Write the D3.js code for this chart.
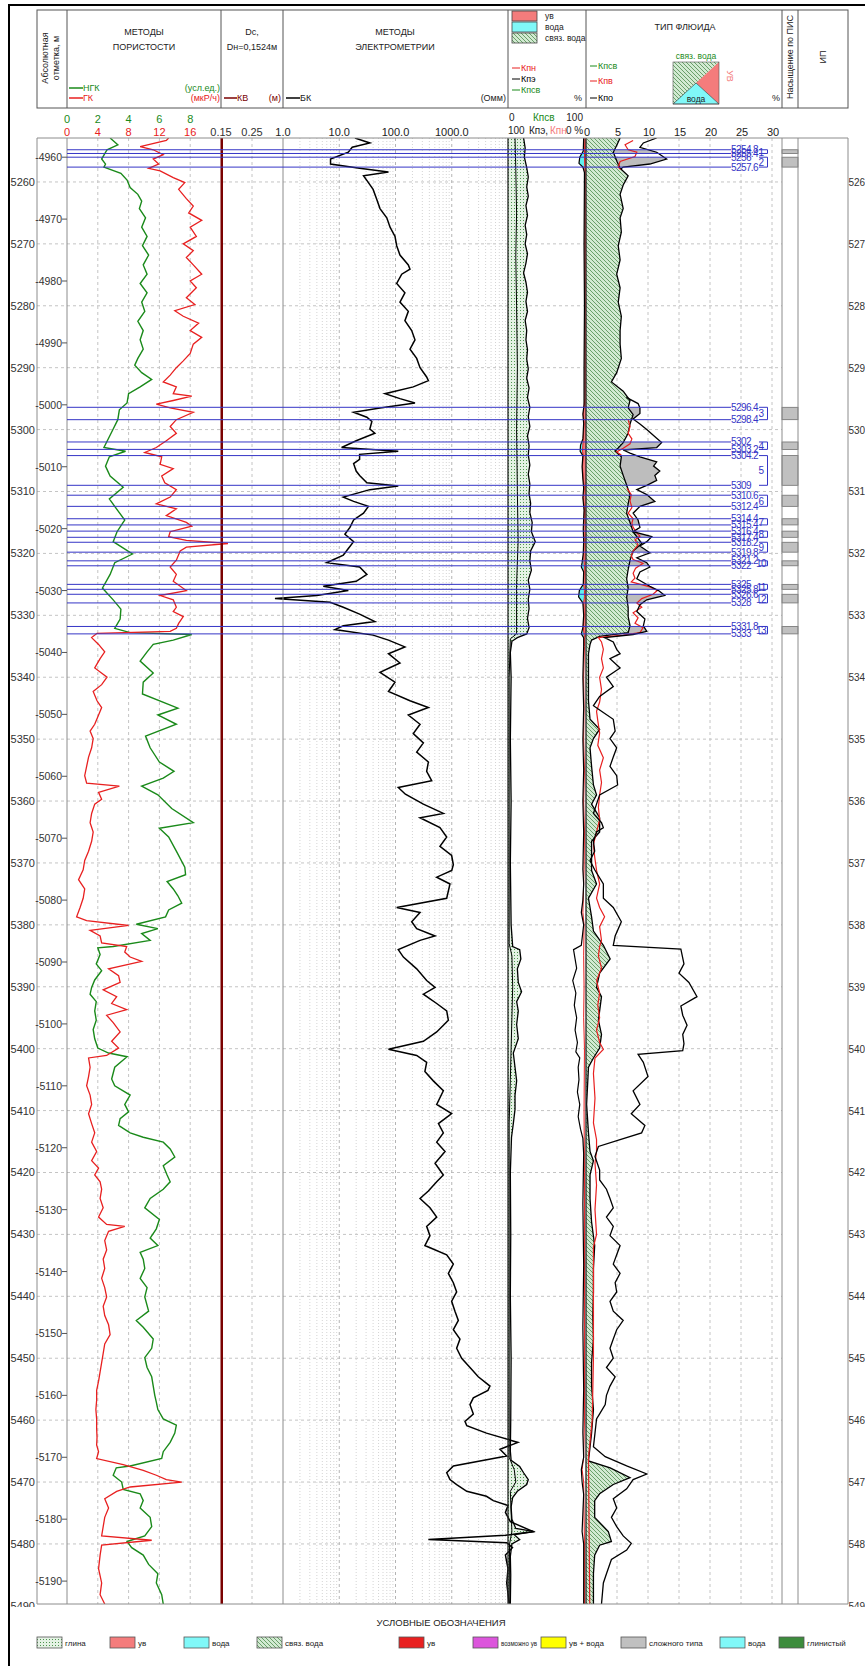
<!DOCTYPE html>
<html>
<head>
<meta charset="utf-8">
<script src="https://cdn.jsdelivr.net/npm/d3@7"></script>
<style>
body { margin: 0; background: #fff; }
svg { display: block; font-family: "Liberation Sans", Arial, sans-serif; }
</style>
</head>
<body>
<svg id="chart" width="865" height="1666"></svg>
<script>
'use strict';

// ---- data (measured depth, value) ----

var ngk = [[5252.9,2.8],[5254.0,3.3],[5254.8,2.6],[5256.3,2.25],[5257.1,2.5],[5257.6,2.4],[5258.6,3.5],[5259.7,3.9],[5260.9,4.1],[5262.0,4.6],[5263.1,4.85],[5264.3,4.7],[5265.8,5.1],[5267.3,4.85],[5268.8,5.2],[5270.3,4.9],[5271.8,5.3],[5273.4,4.95],[5274.9,5.2],[5276.4,4.75],[5277.9,5.2],[5279.4,4.85],[5280.9,5.05],[5282.5,4.6],[5284.0,4.95],[5285.5,4.75],[5287.0,4.95],[5288.5,4.6],[5289.6,4.4],[5290.8,4.85],[5291.9,5.5],[5293.1,4.75],[5294.2,4.0],[5295.7,3.9],[5296.8,3.4],[5298.4,3.3],[5299.9,3.0],[5301.4,2.7],[5302.9,2.4],[5303.5,3.8],[5304.4,2.75],[5305.9,2.5],[5307.5,2.8],[5309.3,3.65],[5311.2,2.75],[5313.1,3.3],[5314.6,3.75],[5316.5,3.25],[5318.1,3.0],[5320.1,4.25],[5321.5,3.1],[5323.4,2.8],[5325.6,2.3],[5327.5,3.0],[5329.0,3.5],[5330.6,3.45],[5332.1,3.1],[5332.8,4.1],[5333.1,8.1],[5334.0,6.9],[5334.7,5.6],[5335.9,5.2],[5337.4,4.75],[5339.3,5.6],[5340.8,4.95],[5342.7,4.9],[5345.0,7.2],[5346.1,5.9],[5347.6,7.1],[5349.5,5.1],[5351.4,5.4],[5353.7,6.0],[5355.2,6.95],[5356.3,6.25],[5357.6,4.85],[5359.0,5.9],[5361.2,6.8],[5363.5,8.2],[5364.4,6.0],[5365.8,6.6],[5368.1,7.1],[5370.7,7.65],[5371.9,7.7],[5373.0,6.5],[5374.2,6.9],[5375.3,7.2],[5376.5,7.45],[5377.6,6.6],[5378.7,6.4],[5379.9,4.5],[5380.6,5.9],[5381.4,4.85],[5382.5,5.4],[5383.5,3.0],[5383.7,2.0],[5384.8,2.15],[5386.3,1.9],[5387.4,2.25],[5388.9,1.8],[5390.1,1.6],[5391.2,1.5],[5392.4,1.9],[5393.9,1.8],[5395.4,1.9],[5396.9,1.7],[5398.4,1.8],[5399.9,2.0],[5400.7,2.7],[5401.3,3.9],[5403.0,3.1],[5404.9,2.9],[5406.0,3.1],[5407.5,4.1],[5409.0,3.75],[5410.2,4.0],[5411.3,3.45],[5412.4,3.35],[5413.6,4.1],[5414.3,4.95],[5415.1,6.25],[5416.2,6.7],[5417.5,7.0],[5418.9,6.25],[5420.4,6.5],[5421.5,6.7],[5422.7,6.25],[5424.2,5.4],[5425.7,5.05],[5427.6,6.0],[5429.1,5.8],[5430.6,5.4],[5431.8,5.9],[5432.9,4.75],[5434.0,4.95],[5435.5,5.05],[5437.1,4.75],[5438.6,5.2],[5440.1,5.05],[5442.4,5.3],[5443.9,4.5],[5445.0,4.95],[5446.9,5.6],[5448.4,5.5],[5449.9,5.05],[5451.5,5.2],[5453.0,5.5],[5454.5,5.6],[5456.0,5.7],[5457.1,5.8],[5458.3,5.9],[5459.8,6.25],[5460.8,7.1],[5462.1,7.0],[5463.6,6.7],[5465.1,6.25],[5466.2,6.15],[5467.4,4.1],[5467.7,3.2],[5468.9,3.0],[5470.0,3.55],[5471.2,3.65],[5471.9,4.75],[5473.0,4.95],[5474.2,4.75],[5475.7,5.4],[5477.2,5.5],[5478.7,5.05],[5479.6,3.9],[5480.6,4.2],[5481.8,4.95],[5483.3,5.3],[5484.8,5.9],[5486.3,5.8],[5488.2,6.15],[5489.7,6.25]];

var gk = [[5252.9,13.2],[5253.3,12.9],[5254.3,9.5],[5254.8,11.2],[5255.6,12.5],[5256.3,11.2],[5257.1,11.9],[5257.8,10.6],[5258.2,12.1],[5259.3,13.8],[5260.1,15.3],[5261.2,14.5],[5262.7,15.5],[5263.9,16.4],[5265.0,15.8],[5266.2,17.5],[5267.3,16.0],[5268.8,16.8],[5270.0,15.1],[5271.1,16.4],[5272.2,15.5],[5273.4,16.4],[5274.9,17.5],[5276.0,16.0],[5277.1,16.8],[5278.7,15.5],[5279.8,16.6],[5280.8,14.0],[5281.7,15.1],[5282.8,17.1],[5284.0,16.0],[5285.1,17.5],[5286.2,16.4],[5287.7,16.0],[5288.9,15.1],[5290.0,14.2],[5291.2,13.4],[5292.3,12.5],[5293.1,14.2],[5294.2,13.8],[5294.6,16.2],[5295.3,13.8],[5295.9,11.6],[5296.5,13.4],[5297.2,16.4],[5298.4,14.2],[5299.5,13.4],[5300.6,14.2],[5301.8,12.9],[5302.9,11.6],[5303.7,10.1],[5304.4,12.3],[5305.6,12.1],[5306.3,13.8],[5307.5,12.3],[5308.6,12.7],[5309.7,14.2],[5310.9,13.4],[5312.0,11.6],[5312.8,14.2],[5313.9,12.9],[5315.0,15.5],[5315.6,16.2],[5316.5,13.4],[5317.3,13.2],[5317.9,15.5],[5318.4,20.9],[5319.0,15.5],[5319.6,14.7],[5321.1,14.2],[5322.2,13.4],[5323.4,14.2],[5324.5,13.8],[5326.0,15.5],[5326.8,12.1],[5327.5,13.8],[5328.7,14.2],[5329.4,13.8],[5330.2,15.1],[5331.3,14.5],[5332.1,14.2],[5332.6,13.4],[5332.9,3.9],[5333.6,3.2],[5334.7,4.1],[5335.9,4.9],[5337.0,4.3],[5338.5,3.6],[5340.0,5.2],[5341.2,4.5],[5342.3,3.4],[5343.8,3.9],[5344.9,4.5],[5346.1,4.1],[5347.6,3.6],[5348.7,3.0],[5349.9,3.4],[5351.4,3.2],[5352.9,2.8],[5354.4,2.55],[5355.9,2.3],[5357.1,2.55],[5357.6,6.8],[5358.6,4.1],[5359.7,4.5],[5360.5,3.6],[5362.0,3.2],[5363.5,3.0],[5365.0,3.4],[5366.5,3.2],[5368.1,2.8],[5369.6,2.3],[5371.1,2.1],[5372.7,1.5],[5374.2,2.3],[5375.7,2.1],[5377.2,1.7],[5378.7,1.25],[5379.3,2.55],[5380.1,8.0],[5380.9,3.0],[5381.8,4.3],[5382.9,4.5],[5383.5,7.75],[5384.4,7.5],[5385.2,8.2],[5385.9,9.7],[5387.1,5.4],[5388.2,6.7],[5389.3,6.9],[5390.5,4.7],[5391.6,6.45],[5392.7,5.8],[5393.7,7.75],[5394.6,5.15],[5395.8,6.0],[5397.3,6.9],[5398.8,5.8],[5399.9,6.7],[5401.1,5.15],[5401.5,2.8],[5403.0,3.0],[5404.5,2.8],[5406.0,2.55],[5407.5,3.0],[5409.0,3.2],[5410.5,2.8],[5412.1,3.2],[5413.6,3.6],[5415.1,3.2],[5416.6,3.85],[5418.1,3.2],[5419.3,4.1],[5420.4,3.6],[5421.5,4.3],[5422.7,4.5],[5424.2,4.3],[5425.7,4.7],[5427.2,4.1],[5428.4,5.15],[5428.7,7.5],[5429.5,5.4],[5431.0,4.9],[5432.5,5.15],[5434.0,4.7],[5435.5,4.9],[5437.1,4.5],[5438.6,4.9],[5440.1,5.15],[5441.6,4.7],[5443.1,4.9],[5444.6,5.4],[5446.2,5.6],[5447.7,4.9],[5449.2,4.7],[5450.7,4.5],[5452.2,4.3],[5453.7,4.1],[5455.2,3.85],[5456.8,3.85],[5458.3,3.75],[5459.8,3.85],[5461.3,3.85],[5462.8,3.9],[5464.0,3.85],[5465.1,4.1],[5466.2,3.85],[5467.2,7.3],[5468.1,9.9],[5468.9,11.6],[5469.6,12.9],[5470.0,14.9],[5470.8,8.2],[5471.5,6.45],[5472.7,4.9],[5474.2,5.4],[5475.7,4.9],[5477.2,4.7],[5478.7,4.5],[5479.4,11.0],[5480.2,4.5],[5481.8,4.3],[5484.0,4.1],[5486.3,4.5],[5488.2,4.3],[5489.7,4.9]];

var kb = [[5252.9,0.1524],[5489.7,0.1524]];

var bk = [[5252.9,19],[5253.7,35],[5254.4,17],[5255.2,14.5],[5256.3,7],[5257.1,7],[5257.8,23],[5258.4,75],[5259.0,27],[5260.1,33],[5261.2,40],[5262.7,46],[5264.3,53],[5265.8,70],[5267.3,80],[5268.8,98],[5270.3,105],[5271.8,120],[5273.4,169],[5274.1,181],[5274.9,129],[5276.4,105],[5277.9,147],[5279.4,120],[5280.9,169],[5282.4,147],[5284.0,194],[5285.5,222],[5287.0,181],[5288.5,238],[5290.0,273],[5291.5,358],[5292.1,384],[5293.1,207],[5294.2,65],[5295.0,120],[5295.7,222],[5296.5,53],[5297.2,18],[5298.0,31],[5298.7,38],[5299.9,35],[5300.6,43],[5301.8,20],[5302.9,11],[5303.5,112],[5304.0,23],[5304.8,23],[5305.5,18],[5306.7,20],[5307.4,23],[5308.6,31],[5309.1,112],[5309.7,35],[5310.9,11.8],[5311.6,18],[5312.4,33],[5313.5,27],[5314.6,18],[5315.8,15.5],[5316.9,12.6],[5318.1,18],[5319.2,14.5],[5320.3,11.8],[5321.5,6],[5322.2,23],[5323.4,31],[5324.5,20],[5325.3,5.2],[5326.0,14.5],[5326.8,4],[5327.3,0.72],[5327.9,6.9],[5328.7,11.8],[5329.8,23],[5331.0,43],[5331.7,11.8],[5332.3,8.4],[5333.2,40],[5334.0,75],[5335.1,147],[5336.2,75],[5337.7,120],[5339.2,53],[5340.8,98],[5342.3,75],[5343.8,181],[5344.9,384],[5346.1,169],[5347.6,273],[5349.1,207],[5350.6,313],[5352.1,238],[5353.7,384],[5355.2,358],[5356.7,440],[5357.8,112],[5358.9,150],[5360.5,313],[5362.0,709],[5362.7,273],[5364.3,617],[5365.8,813],[5367.3,617],[5368.8,996],[5370.3,1067],[5371.2,1000],[5372.3,540],[5373.4,930],[5375.7,813],[5377.2,105],[5378.0,273],[5379.5,194],[5380.6,238],[5381.8,505],[5382.5,273],[5384.0,112],[5385.2,138],[5387.1,238],[5389.0,358],[5390.1,505],[5391.2,313],[5392.7,540],[5393.9,813],[5395.4,870],[5397.3,540],[5398.8,313],[5400.1,75],[5401.1,238],[5402.2,358],[5403.7,333],[5405.2,470],[5406.8,709],[5409.0,540],[5410.5,996],[5412.1,580],[5413.6,709],[5415.1,540],[5416.6,760],[5418.5,505],[5420.4,709],[5421.5,540],[5423.0,384],[5424.2,273],[5425.7,410],[5427.2,540],[5428.7,358],[5430.2,410],[5431.8,333],[5433.3,813],[5434.8,1067],[5436.3,870],[5437.8,1067],[5439.3,1222],[5440.8,996],[5442.4,1140],[5443.9,1310],[5445.4,1067],[5446.9,1400],[5448.4,1222],[5450.0,1500],[5451.5,2110],[5453.0,2960],[5454.5,4780],[5455.2,4400],[5456.4,2420],[5457.5,2110],[5459.0,2420],[5460.2,1720],[5460.9,1850],[5462.1,4140],[5463.6,15000],[5464.7,7200],[5465.8,9460],[5467.4,1070],[5468.5,813],[5469.6,930],[5470.4,1222],[5471.5,1850],[5472.3,4140],[5473.0,5480],[5473.8,10000],[5474.9,9000],[5476.4,11000],[5478.0,28000],[5478.6,9000],[5479.3,384],[5479.8,9500],[5480.6,12000],[5481.8,9000],[5484.0,10000],[5486.3,9500],[5489.7,10500]];

// saturation track: Кпсв band (outer / inner), Кпэ and Кпн (%)
var satOuter = [[5252.9,20],[5254.5,22],[5256.0,21],[5257.7,24],[5259.2,26],[5260.8,24],[5262.3,26],[5263.8,23],[5265.4,25],[5267.0,22],[5268.5,24],[5270.0,22],[5271.6,25],[5273.1,23],[5274.7,20],[5276.2,23],[5277.8,25],[5279.3,23],[5280.9,25],[5282.4,22],[5284.0,24],[5285.5,23],[5287.1,25],[5288.6,24],[5290.2,26],[5291.7,24],[5293.3,27],[5294.8,25],[5296.4,28],[5297.9,26],[5299.5,28],[5301.0,25],[5302.6,27],[5304.1,26],[5305.7,28],[5307.2,26],[5308.8,28],[5310.3,27],[5311.9,29],[5313.4,28],[5315.0,31],[5316.5,30],[5318.1,35],[5319.6,29],[5321.2,28],[5322.7,30],[5324.3,26],[5325.8,28],[5327.4,26],[5328.9,27],[5330.5,25],[5332.0,27],[5333.0,24],[5333.6,12],[5334.2,5],[5336,3],[5340,4],[5350,3],[5360,4],[5370,3],[5380,4],[5383.5,6],[5384.0,15],[5385.5,16.5],[5387.1,12],[5389.3,13.2],[5390.8,17.4],[5392.4,11.1],[5393.9,13.2],[5396.1,11.1],[5398.4,13.2],[5400.7,6.8],[5403.0,9.0],[5405.2,11.1],[5407.5,9.0],[5409.8,9.0],[5412.1,6.8],[5414.3,4.5],[5420,3],[5430,3.5],[5440,3],[5450,4],[5460,3.5],[5465,3],[5466.5,4],[5467.5,15],[5468.5,20],[5469.6,26],[5470.4,24],[5471.5,12],[5472.5,6],[5474,4],[5476,5],[5477.5,10],[5478.0,34],[5478.5,8],[5479.3,15],[5480,5],[5482,3],[5485,3.5],[5489.7,3]];
var satInner = [[5252.9,9],[5258,10],[5265,11],[5272,10],[5280,11],[5290,12],[5300,11],[5310,12],[5318,13],[5325,11],[5333,11],[5333.8,3],[5340,1.5],[5383,1.5],[5385,5],[5390,6],[5395,5],[5400,4],[5405,3],[5412,1.5],[5466,1.5],[5468,8],[5470,10],[5471.5,3],[5478,5],[5480,2],[5489.7,1.5]];
var kpe = [[5252.9,3],[5255.0,3.5],[5256.0,8],[5257.0,9],[5257.6,4],[5258.5,2],[5270,2.5],[5280,2],[5290,2.5],[5296,2.5],[5297.5,4],[5299,3],[5301.5,4],[5302.5,7],[5303.5,7.5],[5304.2,4],[5306,5],[5308,4],[5309.5,3],[5311,4],[5313,2.5],[5316,3.5],[5318,3],[5320,3.5],[5321.5,5],[5322.2,6],[5323,3],[5325,3.5],[5326,8.5],[5327,9.5],[5328,4],[5330,3],[5332,4],[5333,6],[5333.6,3],[5335,3],[5340,4],[5345,3],[5350,4],[5355,3],[5360,4],[5365,3],[5371,4],[5373.4,3],[5376,4],[5378,6],[5380,3],[5383.3,6],[5384.0,16],[5385.5,14],[5387,12],[5389,17],[5391,13],[5393,15],[5395,12],[5397,14],[5399,11],[5400.5,13],[5401.5,8],[5403,10],[5405,9],[5407,11],[5409,8],[5411,10],[5413,7],[5414.5,4],[5417,3],[5425,4],[5435,3],[5445,4],[5455,3],[5462,4],[5466,3],[5468,6],[5470,5],[5472,3],[5478,5],[5480,3],[5489.7,3]];
var kpn = [[5252.9,1.5],[5256,2],[5257.6,1.5],[5258.5,1.5],[5295,1.5],[5297.5,3.5],[5299,2.5],[5301.5,3.5],[5302.5,4],[5303.5,4.5],[5304.2,3.5],[5306,4.5],[5308,3.5],[5309.5,2],[5311,3.5],[5313,2],[5316,3],[5318,2.5],[5320,3],[5321.5,2.5],[5322.2,2],[5323,2.5],[5325,3],[5326,2],[5327,2],[5328,3],[5330,2.5],[5332,3.5],[5333,2.5],[5333.6,2],[5335,2],[5340,3],[5345,2.5],[5350,3],[5355,2],[5360,3],[5365,2],[5371,2.5],[5378,4],[5380,2.5],[5385,3],[5390,2.5],[5395,3],[5400,2],[5410,2.5],[5420,2],[5440,2],[5460,2],[5466,3],[5468,5],[5470,3],[5480,2],[5489.7,2]];

// fluid type track (%): Кпсв, Кпо, Кпв (null = break in curve)
var kpsv = [[5252.9,5.5],[5254.0,5.0],[5255.2,4.4],[5256.7,5.0],[5257.8,5.5],[5259.0,6.8],[5260.5,6.0],[5262.0,5.5],[5264.3,6.0],[5265.8,5.5],[5268.1,5.7],[5270.3,5.2],[5272.6,5.5],[5274.9,4.95],[5277.1,5.5],[5279.4,5.2],[5281.7,5.7],[5284.0,5.5],[5286.2,5.5],[5288.5,5.7],[5290.8,4.95],[5292.3,4.1],[5293.8,6.0],[5295.3,7.1],[5296.5,6.8],[5297.6,7.6],[5299.1,7.1],[5300.6,6.8],[5302.1,6.0],[5303.5,4.7],[5304.4,5.7],[5305.9,5.5],[5307.4,6.0],[5309.0,6.56],[5310.5,7.1],[5312.0,6.8],[5313.5,6.56],[5315.0,7.1],[5316.5,7.6],[5318.4,9.0],[5319.6,7.6],[5321.1,7.1],[5322.6,6.8],[5324.1,6.56],[5325.6,6.8],[5327.1,6.56],[5328.7,6.8],[5330.2,6.8],[5331.7,7.1],[5332.8,6.8],[5333.4,2.2],[5334.0,0.9],[5334.7,0.65],[5336.2,0.4],[5339.3,0.4],[5343.8,0.4],[5346.8,0.65],[5348.4,2.2],[5349.9,1.2],[5351.4,0.65],[5354.4,0.9],[5357.4,1.2],[5359.0,1.7],[5360.5,0.9],[5362.7,2.2],[5365.0,2.2],[5366.5,0.9],[5369.6,0.9],[5371.2,0.9],[5373.4,1.7],[5375.7,0.4],[5378.7,0.9],[5381.0,1.2],[5383.3,2.8],[5385.5,3.9],[5387.8,2.2],[5390.1,1.7],[5391.6,2.5],[5393.9,2.2],[5395.4,2.0],[5397.7,2.5],[5399.9,2.2],[5401.5,1.2],[5403.0,0.4],[5409.0,0.1],[5413.6,0.4],[5416.6,0.65],[5418.1,1.2],[5420.4,0.65],[5424.2,0.65],[5428.0,0.9],[5431.8,1.4],[5435.5,1.2],[5439.3,1.2],[5443.1,1.1],[5446.9,1.2],[5450.7,0.9],[5454.5,0.9],[5458.3,1.2],[5462.1,0.9],[5466.6,0.4],[5467.7,3.9],[5469.3,7.1],[5470.4,4.4],[5471.9,2.2],[5473.0,1.4],[5475.7,1.4],[5478.0,3.6],[5479.6,4.1],[5480.2,2.2],[5481.8,1.4],[5484.8,1.2],[5489.7,1.2]];

var kpo = [[5252.9,11.4],[5253.7,9.25],[5254.4,8.7],[5255.2,11.4],[5256.3,13.0],[5257.1,10.3],[5257.6,6.0],[5257.9,5.6],null,
  [5294.8,6.5],[5295.8,8.4],[5296.5,8.7],[5297.4,8.7],[5298.3,7.6],[5299.1,8.7],[5300.0,9.8],[5301.4,11.4],[5302.1,12.2],[5302.9,11.4],[5303.3,6.0],[5303.8,7.1],[5304.4,8.7],[5305.2,11.4],[5305.9,10.9],[5306.7,11.9],[5307.4,11.1],[5308.2,11.4],[5309.0,9.8],[5309.7,8.2],[5310.5,9.8],[5311.6,11.1],[5312.4,8.7],[5313.5,7.6],[5314.6,8.4],[5315.8,8.7],[5316.5,7.6],[5317.3,10.6],[5318.1,9.8],[5318.8,8.7],[5319.9,10.3],[5320.7,8.2],[5321.5,9.8],[5322.2,10.3],[5323.0,8.7],[5324.1,8.2],[5325.3,10.3],[5326.0,11.7],[5326.8,12.7],[5327.5,9.8],[5328.3,8.7],[5329.4,8.2],[5330.6,9.5],[5331.7,9.25],[5332.6,9.8],[5333.1,7.6],[5333.6,3.0],
  [5334.3,4.4],[5335.5,4.95],[5336.2,5.5],[5337.0,3.87],[5338.5,5.5],[5340.0,3.3],[5341.5,4.4],[5343.1,2.2],[5344.6,1.2],[5345.3,2.2],[5346.8,4.4],[5348.7,4.7],[5349.9,3.87],[5351.4,4.95],[5352.9,4.4],[5354.4,3.87],[5355.9,4.95],[5357.4,5.1],[5359.0,2.2],[5360.5,1.7],[5362.0,1.2],[5363.5,2.5],[5364.3,2.8],[5365.0,1.7],[5366.5,1.2],[5368.1,1.4],[5369.6,0.65],[5371.1,1.4],[5373.4,2.8],[5375.7,2.8],[5377.2,4.4],[5379.5,5.7],[5381.8,4.7],[5383.3,4.4],[5383.9,15.3],[5386.3,15.8],[5387.8,15.0],[5389.3,16.6],[5391.6,17.9],[5393.1,15.3],[5394.6,15.6],[5396.2,16.3],[5397.7,15.6],[5399.2,15.8],[5400.3,15.6],[5400.9,8.4],[5402.2,9.25],[5404.5,10.0],[5406.8,7.6],[5409.0,8.7],[5410.5,7.3],[5412.4,9.5],[5413.6,8.97],[5414.7,5.5],[5415.8,2.0],[5417.4,1.45],[5419.6,2.2],[5421.2,2.2],[5422.7,3.3],[5424.2,3.87],[5425.7,4.4],[5427.2,3.3],[5428.7,4.4],[5430.2,3.87],[5431.8,5.5],[5433.3,4.95],[5434.8,4.4],[5436.3,5.5],[5437.8,4.7],[5439.3,4.95],[5440.8,3.87],[5442.4,4.4],[5443.9,6.0],[5445.4,4.95],[5446.9,4.4],[5448.4,3.87],[5450.0,4.4],[5451.5,3.3],[5453.0,4.7],[5454.5,3.87],[5456.0,3.3],[5457.5,3.1],[5459.0,2.2],[5459.8,1.7],[5462.1,1.45],[5464.3,1.2],[5465.9,3.1],[5467.4,6.56],[5468.7,9.8],[5469.6,7.6],[5471.1,6.56],[5472.7,4.4],[5474.2,4.95],[5475.7,4.1],[5477.2,4.95],[5478.7,6.0],[5479.9,7.3],[5481.0,6.56],[5482.5,4.1],[5484.8,3.3],[5486.3,2.8],[5489.7,2.5]];

var kpv = [[5253.3,7.6],[5254.0,6.3],[5254.8,6.8],[5255.2,8.2],[5255.9,7.9],[5256.7,5.5],[5257.6,5.2],[5258.0,5.6],null,
  [5298.4,6.8],[5299.5,7.1],[5300.6,6.8],[5301.5,7.4],[5302.3,7.1],[5303.0,6.0],[5303.6,4.95],[5304.1,5.7],null,
  [5309.5,6.6],[5310.5,7.3],[5311.5,7.1],[5312.6,7.4],[5313.5,6.8],[5314.4,7.6],[5315.1,7.4],[5315.8,7.6],[5316.7,8.2],[5317.2,8.7],[5317.8,7.9],[5318.6,8.4],[5319.6,7.6],[5320.4,7.3],[5321.0,7.6],[5321.6,9.2],[5322.4,8.0],[5323.2,7.6],[5324.0,7.9],[5324.6,7.3],[5325.4,10.3],[5326.0,11.5],[5326.6,10.8],[5327.3,9.0],[5328.0,8.2],[5328.7,9.0],[5329.6,7.6],[5330.4,8.4],[5331.3,7.9],[5332.0,9.2],[5332.8,8.7],[5333.2,6.0],[5333.6,2.0],
  [5334.3,2.5],[5335.5,2.8],[5337.0,2.5],[5338.5,2.8],[5340.0,2.2],[5342.0,2.5],[5344.0,2.2],[5345.5,1.7],[5347.0,1.9],[5349.0,2.2],[5351.0,1.9],[5353.0,2.8],[5355.0,2.2],[5357.0,2.5],[5359.0,2.2],[5361.0,2.0],[5363.0,2.2],[5365.0,1.7],[5367.0,1.2],[5369.0,1.4],[5371.2,1.7],[5373.4,2.2],[5375.7,1.7],[5377.2,2.2],[5378.7,3.0],[5380.3,2.2],[5382.5,2.5],[5383.5,2.2],[5385.0,2.0],[5387.0,2.5],[5389.0,1.7],[5391.0,2.2],[5393.0,1.9],[5395.0,2.2],[5397.0,1.7],[5399.0,2.2],[5400.1,2.8],[5401.5,1.45],[5404.0,1.2],[5408.0,1.45],[5412.0,1.2],[5414.7,1.7],[5416.6,1.7],[5418.5,1.45],[5422.0,1.7],[5426.0,1.45],[5430.0,1.7],[5432.0,1.2],[5440.0,1.2],[5450.0,1.2],[5460.0,1.0],[5466.0,0.4],[5489.7,0.6]];

// perforation / interpretation intervals
var intNum = ['1','2','3','4','5','6','7','8','9','10','11','12','13'];
var intTop = [5254.8,5256.0,5296.4,5302.0,5304.2,5310.6,5314.4,5316.4,5318.2,5321.2,5325.0,5326.6,5331.8];
var intBot = [5255.4,5257.6,5298.4,5303.2,5309.0,5312.4,5315.4,5317.4,5319.8,5322.0,5325.8,5328.0,5333.0];

// tick labels
var gkTicks = [0,4,8,12,16];
var ngkTicks = [0,2,4,6,8];
var bkTicks = [1,10,100,1000];
var flTicks = [0,5,10,15,20,25,30];
var mdTicks = d3.range(5260, 5491, 10);
var absTicks = d3.range(4960, 5191, 10);
var absShift = 296;

var legendNames = ['глина','ув','вода','связ. вода','ув','возможно ув','ув + вода','сложного типа','вода','глинистый'];
var legendFills = ['url(#dots)','#f47c7c','#80f8f8','url(#hatch)','#e82020','#dc55dc','#ffff00','#c0c0c0','#80f8f8','#3c8c3c'];
var legendX = [37,110,184,257,399,473,541,621,720,779];


// ---- layout ----

var svg = d3.select('#chart');
var plotTop = 138, plotBot = 1604;
var edges = [37, 67, 221, 283, 508, 586, 782, 798, 848];

var y = d3.scaleLinear().domain([5252.9, 5489.7]).range([plotTop, plotBot]);
var xNgk = d3.scaleLinear().domain([0, 10]).range([67, 221]);
var xGk = d3.scaleLinear().domain([0, 20]).range([67, 221]);
var xDc = d3.scaleLinear().domain([0.15, 0.35]).range([221, 283]);
var xBk = d3.scaleLog().domain([1, 10000]).range([283, 508]);
var xSat = d3.scaleLinear().domain([0, 100]).range([508, 586]);
var xKp = d3.scaleLinear().domain([100, 0]).range([508, 586]);
var xFl = d3.scaleLinear().domain([0, 30]).range([586, 772]);

var grey = '#8c8c8c';
var blue = '#3535c6';


// patterns
var defs = svg.append('defs');
var hatch = defs.append('pattern')
	.attr('id', 'hatch')
	.attr('patternUnits', 'userSpaceOnUse')
	.attr('width', 4).attr('height', 4);
hatch.append('rect').attr('width', 4).attr('height', 4).attr('fill', '#d2ead2');
hatch.append('path')
	.attr('d', 'M-1,-1L5,5M-1,3L1,5M3,-1L5,1')
	.attr('stroke', '#4f8c4f').attr('stroke-width', 0.8);

var dots = defs.append('pattern')
	.attr('id', 'dots')
	.attr('patternUnits', 'userSpaceOnUse')
	.attr('width', 3).attr('height', 3);
dots.append('rect').attr('width', 3).attr('height', 3).attr('fill', '#e4f2e4');
dots.append('rect').attr('x', 1).attr('y', 1).attr('width', 1).attr('height', 1).attr('fill', '#4e944e');

defs.append('clipPath').attr('id', 'plotClip')
	.append('rect').attr('x', 0).attr('y', plotTop).attr('width', 865).attr('height', plotBot - plotTop);
defs.append('clipPath').attr('id', 'labelClip')
	.append('rect').attr('x', 0).attr('y', 0).attr('width', 865).attr('height', plotBot + 3);


// helpers
function text(g, x, yy, s, opts) {
	opts = opts || {};
	return g.append('text')
		.attr('x', x).attr('y', yy)
		.attr('font-size', opts.size || 9)
		.attr('fill', opts.fill || '#222')
		.attr('text-anchor', opts.anchor || 'start')
		.attr('letter-spacing', opts.ls || null)
		.text(s);
}

function curve(xs) {
	return d3.line()
		.defined(function(d) { return d !== null; })
		.x(function(d) { return xs(d[1]); })
		.y(function(d) { return y(d[0]); });
}

function interp(arr, d) {
	var pts = arr.filter(Boolean);
	var i = d3.bisector(function(p) { return p[0]; }).left(pts, d);
	if (i <= 0) return pts[0][1];
	if (i >= pts.length) return pts[pts.length - 1][1];
	var a = pts[i - 1], b = pts[i];
	return a[1] + (b[1] - a[1]) * (d - a[0]) / (b[0] - a[0]);
}

// depths of all points of several curves inside [d0, d1], with the ends
function depthsIn(d0, d1, lists) {
	var ds = [d0, d1];
	lists.forEach(function(arr) {
		arr.forEach(function(p) {
			if (p && p[0] > d0 && p[0] < d1) ds.push(p[0]);
		});
	});
	return ds.sort(d3.ascending);
}


// ---- outer frame and header ----

svg.append('rect')
	.attr('x', 9).attr('y', 5).attr('width', 900).attr('height', 1700)
	.attr('fill', 'none').attr('stroke', '#000').attr('stroke-width', 2);

var head = svg.append('g');
head.append('rect')
	.attr('x', 37).attr('y', 10).attr('width', 811).attr('height', 98)
	.attr('fill', 'none').attr('stroke', '#555');
edges.slice(1, -1).forEach(function(x) {
	head.append('line').attr('x1', x).attr('x2', x).attr('y1', 10).attr('y2', 108).attr('stroke', '#555');
});

// depth column title
[['Абсолютная', 48], ['отметка, м', 59]].forEach(function(t) {
	head.append('text')
		.attr('transform', 'translate(' + t[1] + ',58) rotate(-90)')
		.attr('text-anchor', 'middle').attr('font-size', 9).attr('fill', '#222')
		.text(t[0]);
});

// porosity
text(head, 144, 35, 'МЕТОДЫ', {anchor: 'middle'});
text(head, 144, 50, 'ПОРИСТОСТИ', {anchor: 'middle'});
head.append('line').attr('x1', 69).attr('x2', 83).attr('y1', 88).attr('y2', 88).attr('stroke', '#1a8a1a').attr('stroke-width', 1.5);
text(head, 83, 91, 'НГК', {fill: '#1a8a1a'});
head.append('line').attr('x1', 69).attr('x2', 83).attr('y1', 98).attr('y2', 98).attr('stroke', '#e82020').attr('stroke-width', 1.5);
text(head, 83, 101, 'ГК', {fill: '#e82020'});
text(head, 220, 91, '(усл.ед.)', {anchor: 'end', fill: '#1a8a1a'});
text(head, 220, 101, '(мкР/ч)', {anchor: 'end', fill: '#e82020'});

// Dc
text(head, 252, 35, 'Dс,', {anchor: 'middle'});
text(head, 252, 50, 'Dн=0,1524м', {anchor: 'middle'});
head.append('line').attr('x1', 224).attr('x2', 237).attr('y1', 98).attr('y2', 98).attr('stroke', '#7a0000').attr('stroke-width', 1.5);
text(head, 237, 101, 'КВ', {fill: '#7a0000'});
text(head, 281, 101, '(м)', {anchor: 'end', fill: '#7a0000'});

// electrometry
text(head, 395, 35, 'МЕТОДЫ', {anchor: 'middle'});
text(head, 395, 50, 'ЭЛЕКТРОМЕТРИИ', {anchor: 'middle'});
head.append('line').attr('x1', 286).attr('x2', 300).attr('y1', 98).attr('y2', 98).attr('stroke', '#000').attr('stroke-width', 1.5);
text(head, 300, 101, 'БК');
text(head, 506, 101, '(Омм)', {anchor: 'end'});

// saturation legend boxes
[['#f47c7c', 'ув'], ['#80f8f8', 'вода'], ['url(#hatch)', 'связ. вода']].forEach(function(b, i) {
	head.append('rect')
		.attr('x', 512).attr('y', 11 + i * 11).attr('width', 25).attr('height', 10)
		.attr('fill', b[0]).attr('stroke', '#444').attr('stroke-width', 0.8);
	text(head, 545, 19 + i * 11, b[1], {size: 8.5});
});
[['Кпн', '#e82020', 68], ['Кпэ', '#000', 79], ['Кпсв', '#1a8a1a', 90]].forEach(function(k) {
	head.append('line').attr('x1', 512).attr('x2', 520).attr('y1', k[2]).attr('y2', k[2]).attr('stroke', k[1]);
	text(head, 521, k[2] + 3, k[0], {fill: k[1]});
});
text(head, 582, 101, '%', {anchor: 'end'});

// fluid type
text(head, 685, 30, 'ТИП ФЛЮИДА', {anchor: 'middle'});
[['Кпсв', '#1a8a1a', 66], ['Кпв', '#e82020', 81], ['Кпо', '#000', 98]].forEach(function(k) {
	head.append('line').attr('x1', 590).attr('x2', 597).attr('y1', k[2]).attr('y2', k[2]).attr('stroke', k[1]);
	text(head, 598, k[2] + 3, k[0], {fill: k[1]});
});
text(head, 780, 101, '%', {anchor: 'end'});
text(head, 696, 59, 'связ. вода', {anchor: 'middle', fill: '#1a8a1a', size: 8.5});
head.append('rect').attr('x', 673).attr('y', 62).attr('width', 46).attr('height', 42).attr('fill', 'url(#hatch)');
head.append('path').attr('d', 'M719,62L719,104L696,83Z').attr('fill', '#f47c7c');
head.append('path').attr('d', 'M673,104L696,83L719,104Z').attr('fill', '#80f8f8').attr('stroke', '#333').attr('stroke-width', 0.6);
head.append('rect').attr('x', 673).attr('y', 62).attr('width', 46).attr('height', 42).attr('fill', 'none').attr('stroke', '#555').attr('stroke-width', 0.6);
text(head, 696, 102, 'вода', {anchor: 'middle', size: 8.5});
head.append('text')
	.attr('transform', 'translate(727,76) rotate(90)')
	.attr('text-anchor', 'middle').attr('font-size', 9).attr('fill', '#f47c7c')
	.text('УВ');

// saturation by logs / ИП
head.append('text')
	.attr('transform', 'translate(793,57) rotate(-90)')
	.attr('text-anchor', 'middle').attr('font-size', 9).attr('fill', '#222')
	.text('Насыщение по ПИС');
head.append('text')
	.attr('transform', 'translate(826,57) rotate(-90)')
	.attr('text-anchor', 'middle').attr('font-size', 9).attr('fill', '#222')
	.text('ИП');


// ---- scale row ----

var scales = svg.append('g');
ngkTicks.forEach(function(v) { text(scales, xNgk(v), 123, v, {anchor: 'middle', fill: '#1a8a1a', size: 11}); });
gkTicks.forEach(function(v) { text(scales, xGk(v), 136, v, {anchor: 'middle', fill: '#e82020', size: 11}); });
text(scales, 221, 136, '0.15', {anchor: 'middle', fill: '#333', size: 11});
text(scales, 252, 136, '0.25', {anchor: 'middle', fill: '#333', size: 11});
bkTicks.forEach(function(v) { text(scales, xBk(v), 136, d3.format('.1f')(v), {anchor: 'middle', size: 11}); });
text(scales, 509, 121, '0', {size: 10});
text(scales, 533, 121, 'Кпсв', {size: 10, fill: '#1a8a1a'});
text(scales, 583, 121, '100', {size: 10, anchor: 'end'});
text(scales, 508, 134, '100', {size: 10});
text(scales, 529, 134, 'Кпэ,', {size: 10});
text(scales, 550, 134, 'Кпн', {size: 10, fill: '#f47c7c'});
text(scales, 566, 134, '0 %', {size: 10});
flTicks.forEach(function(v) { text(scales, xFl(v) + 1, 136, v, {anchor: 'middle', size: 11}); });


// ---- grid ----

var grid = svg.append('g');
mdTicks.forEach(function(d) {
	if (y(d) >= plotBot) return;
	grid.append('line')
		.attr('x1', 37).attr('x2', 782).attr('y1', y(d)).attr('y2', y(d))
		.attr('stroke', '#c4c4c4').attr('stroke-dasharray', '3,3');
});
function vgrid(x, dash, col) {
	grid.append('line')
		.attr('x1', x).attr('x2', x).attr('y1', plotTop).attr('y2', plotBot)
		.attr('stroke', col).attr('stroke-dasharray', dash);
}
gkTicks.slice(1).forEach(function(v) { vgrid(xGk(v), '3,3', '#c4c4c4'); });
vgrid(xDc(0.25), '3,3', '#c4c4c4');
[1, 10, 100, 1000].forEach(function(dec) {
	d3.range(2, 10).forEach(function(m) { vgrid(xBk(dec * m), '1,2', '#d4d4d4'); });
	if (dec > 1) vgrid(xBk(dec), '3,3', '#b4b4b4');
});
flTicks.slice(1).forEach(function(v) { vgrid(xFl(v), '3,3', '#c4c4c4'); });


// ---- saturation-by-logs column (intervals) ----

intNum.forEach(function(n, i) {
	svg.append('rect')
		.attr('x', 782).attr('y', y(intTop[i]))
		.attr('width', 16).attr('height', y(intBot[i]) - y(intTop[i]))
		.attr('fill', '#c0c0c0').attr('stroke', '#707070').attr('stroke-width', 0.8);
});


// ---- curves ----

var plot = svg.append('g').attr('clip-path', 'url(#plotClip)');

// saturation track: Кпсв band
plot.append('path')
	.datum(satOuter)
	.attr('d', d3.area()
		.x0(xSat(0))
		.x1(function(d) { return xSat(d[1]); })
		.y(function(d) { return y(d[0]); }))
	.attr('fill', 'url(#dots)');
plot.append('path').datum(satOuter).attr('d', curve(xSat)).attr('fill', 'none').attr('stroke', '#000').attr('stroke-width', 1.3);
plot.append('path').datum(satInner).attr('d', curve(xSat)).attr('fill', 'none').attr('stroke', '#000').attr('stroke-width', 1);

// saturation track: water and hydrocarbon slivers in the upper section
var upDepths = depthsIn(5252.9, 5333.6, [kpe, kpn]);
plot.append('path')
	.datum(upDepths)
	.attr('d', d3.area()
		.x0(function(d) { return xKp(interp(kpe, d)); })
		.x1(function(d) { return xKp(interp(kpn, d)); })
		.y(function(d) { return y(d); }))
	.attr('fill', '#60f0f0');
plot.append('path')
	.datum(upDepths)
	.attr('d', d3.area()
		.x0(function(d) { return xKp(interp(kpn, d)); })
		.x1(xKp(0))
		.y(function(d) { return y(d); }))
	.attr('fill', '#f47c7c');
plot.append('path').datum(kpn).attr('d', curve(xKp)).attr('fill', 'none').attr('stroke', '#e82020').attr('stroke-width', 1);
plot.append('path').datum(kpe).attr('d', curve(xKp)).attr('fill', 'none').attr('stroke', '#000').attr('stroke-width', 1.2);

// fluid track: bound water, complex-type intervals
plot.append('path')
	.datum(kpsv)
	.attr('d', d3.area()
		.x0(xFl(0))
		.x1(function(d) { return xFl(d[1]); })
		.y(function(d) { return y(d[0]); }))
	.attr('fill', 'url(#hatch)');
intNum.forEach(function(n, i) {
	var ds = depthsIn(intTop[i], intBot[i], [kpsv, kpo]);
	plot.append('path')
		.datum(ds)
		.attr('d', d3.area()
			.x0(function(d) { return xFl(interp(kpsv, d)); })
			.x1(function(d) { return xFl(Math.max(interp(kpsv, d), interp(kpo, d))); })
			.y(function(d) { return y(d); }))
		.attr('fill', '#bdbdbd');
});
plot.append('path').datum(kpsv).attr('d', curve(xFl)).attr('fill', 'none').attr('stroke', '#000').attr('stroke-width', 1.3);
plot.append('path').datum(kpv).attr('d', curve(xFl)).attr('fill', 'none').attr('stroke', '#e82020').attr('stroke-width', 1.2);
plot.append('path').datum(kpo).attr('d', curve(xFl)).attr('fill', 'none').attr('stroke', '#000').attr('stroke-width', 1.3);

// porosity, caliper, resistivity
plot.append('path').datum(ngk).attr('d', curve(xNgk)).attr('fill', 'none').attr('stroke', '#1a8a1a').attr('stroke-width', 1.4);
plot.append('path').datum(gk).attr('d', curve(xGk)).attr('fill', 'none').attr('stroke', '#e82020').attr('stroke-width', 1.3);
plot.append('path').datum(kb).attr('d', curve(xDc)).attr('fill', 'none').attr('stroke', '#7a0000').attr('stroke-width', 2.5);
plot.append('path').datum(bk).attr('d', curve(xBk)).attr('fill', 'none').attr('stroke', '#000').attr('stroke-width', 1.5);


// ---- track borders ----

var borders = svg.append('g');
edges.forEach(function(x) {
	if (x === 221) return;
	borders.append('line')
		.attr('x1', x).attr('x2', x).attr('y1', plotTop).attr('y2', plotBot)
		.attr('stroke', (x === 508 || x === 586) ? '#222' : grey)
		.attr('stroke-width', (x === 508 || x === 586) ? 1.3 : 1);
});
[plotTop, plotBot].forEach(function(yy) {
	borders.append('line').attr('x1', 37).attr('x2', 848).attr('y1', yy).attr('y2', yy).attr('stroke', grey);
});


// ---- interval markers ----

var marks = svg.append('g');
var bounds = d3.sort(Array.from(new Set(intTop.concat(intBot))));
bounds.forEach(function(b) {
	marks.append('line')
		.attr('x1', 67).attr('x2', 731).attr('y1', y(b)).attr('y2', y(b))
		.attr('stroke', blue).attr('stroke-width', 1);
	text(marks, 731, y(b) + 3.5, String(b), {size: 10, fill: blue, ls: -0.6});
});
intNum.forEach(function(n, i) {
	var t = y(intTop[i]), b = y(intBot[i]);
	marks.append('path')
		.attr('d', 'M759,' + t + 'H767.5V' + b + 'H759')
		.attr('fill', 'none').attr('stroke', blue);
	text(marks, 761, (t + b) / 2 + 4, n, {size: 10, fill: blue, anchor: 'middle', ls: -0.6});
});


// ---- depth labels ----

var depths = svg.append('g').attr('clip-path', 'url(#labelClip)');
mdTicks.forEach(function(d) {
	text(depths, 35, y(d) + 4, d, {anchor: 'end', size: 11, fill: '#333'});
	text(depths, 848.5, y(d) + 4, d, {size: 10, fill: '#333'});
});
absTicks.forEach(function(a) {
	var yy = y(a + absShift);
	text(depths, 62, yy + 4, '-' + a, {anchor: 'end', size: 10.5, fill: '#333'});
	depths.append('line').attr('x1', 62).attr('x2', 67).attr('y1', yy).attr('y2', yy).attr('stroke', '#555');
});


// ---- legend ----

var legend = svg.append('g');
text(legend, 441, 1626, 'УСЛОВНЫЕ ОБОЗНАЧЕНИЯ', {anchor: 'middle', size: 9.5});
legendNames.forEach(function(name, i) {
	legend.append('rect')
		.attr('x', legendX[i]).attr('y', 1637).attr('width', 25).attr('height', 11)
		.attr('fill', legendFills[i]).attr('stroke', '#555').attr('stroke-width', 0.8);
	var t = text(legend, legendX[i] + 28, 1646, name, {size: 8});
	// squeeze a label that would run into the next swatch
	var room = (i < legendX.length - 1 ? legendX[i + 1] : 860) - legendX[i] - 32;
	if (t.node().getComputedTextLength() > room) {
		t.attr('textLength', room).attr('lengthAdjust', 'spacingAndGlyphs');
	}
});
</script>
</body>
</html>
